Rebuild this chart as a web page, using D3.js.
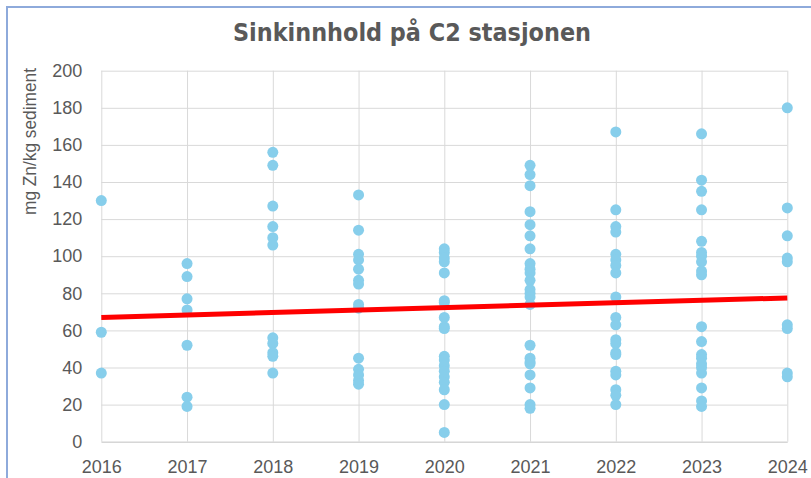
<!DOCTYPE html>
<html>
<head>
<meta charset="utf-8">
<script src="https://cdn.jsdelivr.net/npm/d3@7"></script>
<style>
    body { margin: 0; background: #fff; }
    svg { display: block; }
</style>
</head>
<body>
<svg id="chart" width="811" height="478"></svg>
<script>
// zinc content (mg Zn/kg sediment) per year
const years = [2016, 2017, 2018, 2019, 2020, 2021, 2022, 2023, 2024];
const yTicks = [0, 20, 40, 60, 80, 100, 120, 140, 160, 180, 200];

const zn2016 = [130, 59, 37];
const zn2017 = [96, 89, 77, 71, 52, 24, 19];
const zn2018 = [156, 149, 127, 116, 110, 106, 56, 53, 48, 46, 37];
const zn2019 = [133, 114, 101, 98, 93, 87, 85, 74, 72, 45, 39, 36, 33, 31];
const zn2020 = [104, 102, 99, 97, 91, 76, 75, 67, 62, 61, 46, 44, 41, 38, 35, 32, 28, 20, 5];
const zn2021 = [149, 144, 138, 124, 117, 111, 104, 96, 93, 91, 87, 82, 80, 78, 74, 52, 45, 43, 42, 36, 29, 20, 18];
const zn2022 = [167, 125, 116, 113, 101, 98, 95, 91, 78, 67, 63, 55, 53, 48, 47, 38, 36, 28, 25, 20];
const zn2023 = [166, 141, 135, 125, 108, 102, 100, 97, 92, 90, 62, 54, 47, 45, 42, 40, 37, 29, 22, 19];
const zn2024 = [180, 126, 111, 99, 97, 63, 61, 37, 35];

const trendYears = [2016, 2024];
const trendValues = [67, 77.5];

const seriesByYear = [zn2016, zn2017, zn2018, zn2019, zn2020, zn2021, zn2022, zn2023, zn2024];

const points = [];
years.forEach((yr, i) => {
    seriesByYear[i].forEach(v => points.push({year: yr, value: v}));
});

const svg = d3.select('#chart');
const plot = {left: 101.3, right: 787.3, top: 70.7, bottom: 441.7};
const textColor = '#595959';
const sans = '"Liberation Sans", Arial, sans-serif';
const narrow = '"DejaVu Sans Condensed", "Liberation Sans", sans-serif';

const x = d3.scaleLinear().domain([2016, 2024]).range([plot.left, plot.right]);
const y = d3.scaleLinear().domain([0, 200]).range([plot.bottom, plot.top]);

// outer chart border (only left/top visible in the crop)
svg.append('rect')
    .attr('x', 7)
    .attr('y', 7)
    .attr('width', 900)
    .attr('height', 600)
    .attr('fill', 'none')
    .attr('stroke', '#8eaadb')
    .attr('stroke-width', 2);

// horizontal gridlines
svg.append('g')
    .attr('transform', `translate(${plot.left},0)`)
    .call(d3.axisLeft(y).tickValues(yTicks).tickSize(-(plot.right - plot.left)).tickFormat(''))
    .call(g => g.select('.domain').remove())
    .call(g => g.selectAll('line').attr('stroke', '#d9d9d9').attr('stroke-width', 1));

// vertical gridlines
svg.append('g')
    .attr('transform', `translate(0,${plot.bottom})`)
    .call(d3.axisBottom(x).tickValues(years).tickSize(-(plot.bottom - plot.top)).tickFormat(''))
    .call(g => g.select('.domain').remove())
    .call(g => g.selectAll('line').attr('stroke', '#d9d9d9').attr('stroke-width', 1));

// y tick labels
svg.append('g')
    .attr('transform', `translate(${plot.left},0)`)
    .call(d3.axisLeft(y).tickValues(yTicks).tickSize(0).tickPadding(19))
    .call(g => g.select('.domain').remove())
    .call(g => g.selectAll('text')
        .attr('fill', textColor)
        .style('font-family', sans)
        .style('font-size', '18px'));

// x axis with labels
svg.append('g')
    .attr('transform', `translate(0,${plot.bottom})`)
    .call(d3.axisBottom(x).tickValues(years).tickSize(0).tickPadding(19).tickFormat(d3.format('d')))
    .call(g => g.select('.domain').attr('stroke', '#d0d0d0'))
    .call(g => g.selectAll('text')
        .attr('fill', textColor)
        .style('font-family', sans)
        .style('font-size', '18px'));

// scatter points
svg.append('g')
    .selectAll('circle')
    .data(points)
    .join('circle')
    .attr('cx', d => x(d.year))
    .attr('cy', d => y(d.value))
    .attr('r', 5.5)
    .attr('fill', '#87ceeb');

// linear trend line
svg.append('line')
    .attr('x1', x(trendYears[0]))
    .attr('y1', y(trendValues[0]))
    .attr('x2', x(trendYears[1]))
    .attr('y2', y(trendValues[1]))
    .attr('stroke', '#ff0000')
    .attr('stroke-width', 5);

// title
svg.append('text')
    .attr('x', 412)
    .attr('y', 41)
    .attr('text-anchor', 'middle')
    .attr('fill', textColor)
    .attr('textLength', 358)
    .attr('lengthAdjust', 'spacingAndGlyphs')
    .style('font-family', narrow)
    .style('font-weight', 'bold')
    .style('font-size', '25px')
    .text('Sinkinnhold på C2 stasjonen');

// y axis title
svg.append('text')
    .attr('transform', 'translate(36,141.5) rotate(-90)')
    .attr('text-anchor', 'middle')
    .attr('fill', textColor)
    .attr('textLength', 147)
    .attr('lengthAdjust', 'spacingAndGlyphs')
    .style('font-family', sans)
    .style('font-size', '19px')
    .text('mg Zn/kg sediment');
</script>
</body>
</html>
